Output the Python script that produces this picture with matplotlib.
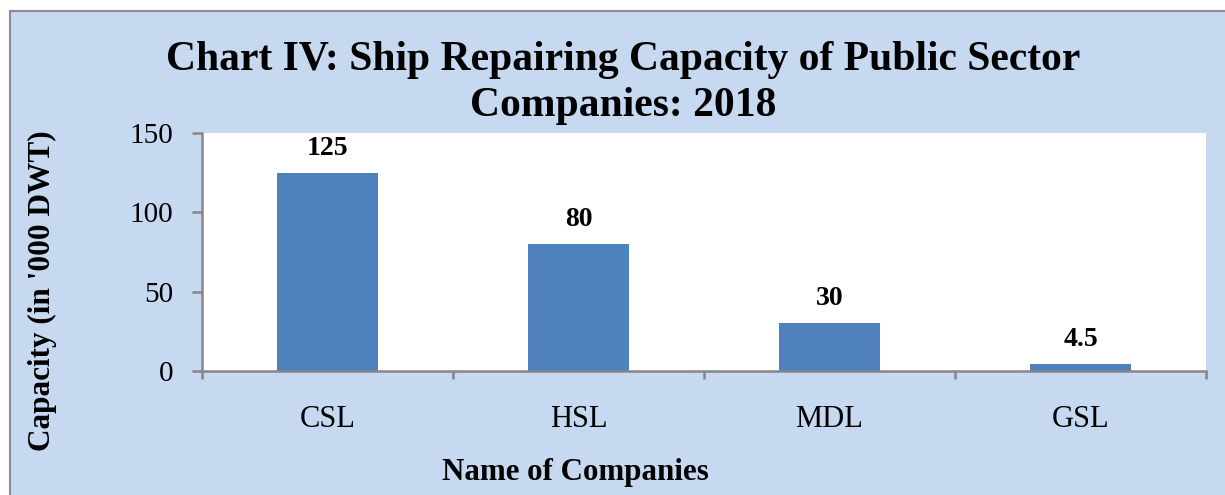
import matplotlib.pyplot as plt
import matplotlib.patches as mpatches
from matplotlib.transforms import blended_transform_factory

# data
companies = ['CSL', 'HSL', 'MDL', 'GSL']
capacity = [125, 80, 30, 4.5]
value_labels = ['125', '80', '30', '4.5']

plt.rcParams['font.family'] = ['Liberation Serif', 'DejaVu Serif']

W, H = 1225, 495
fig = plt.figure(figsize=(W / 100, H / 100), dpi=100)
fig.patch.set_facecolor('white')

# chart area background with gray border (cropped at right/bottom)
bg = mpatches.Rectangle((10 / W, -0.05), 1.1, 1 - 11 / H + 0.05, transform=fig.transFigure,
                        facecolor='#C6D9F1', edgecolor='#8C8C8C', linewidth=1.5, zorder=-10)
fig.add_artist(bg)

ax = fig.add_axes([202 / W, 1 - 371 / H, (1206 - 202) / W, (371 - 133) / H])
ax.set_facecolor('white')

x = range(len(companies))
ax.bar(x, capacity, width=0.4, color='#4F81BD', zorder=2)
ax.set_xlim(-0.5, len(companies) - 0.5)
ax.set_ylim(0, 150)
ax.set_yticks([0, 50, 100, 150])

# value labels above bars
for i, v in enumerate(capacity):
    ax.annotate(value_labels[i], (i, v), xytext=(0, 13), textcoords='offset points',
                ha='center', va='baseline', fontsize=20, fontweight='bold')

# axis styling
for s in ['top', 'right']:
    ax.spines[s].set_visible(False)
for s in ['left', 'bottom']:
    ax.spines[s].set_color('#868686')
    ax.spines[s].set_linewidth(1.8)

ax.set_xticks([i - 0.5 for i in range(len(companies) + 1)])
ax.set_xticklabels([])
ax.tick_params(axis='x', direction='out', length=6, color='#868686', width=1.8)
ax.tick_params(axis='y', direction='out', length=7, color='#868686', width=1.8,
               labelsize=21, pad=13.5)

# category names
trans = blended_transform_factory(ax.transData, fig.transFigure)
for i, name in enumerate(companies):
    ax.text(i, 1 - 427 / H, name, transform=trans, ha='center', va='baseline', fontsize=22)

fig.text(623 / W, 1 - 70 / H, 'Chart IV: Ship Repairing Capacity of Public Sector',
         ha='center', va='baseline', fontsize=30, fontweight='bold')
fig.text(623 / W, 1 - 116 / H, 'Companies: 2018',
         ha='center', va='baseline', fontsize=30, fontweight='bold')
fig.text(575 / W, 1 - 480 / H, 'Name of Companies', ha='center', va='baseline',
         fontsize=22.3, fontweight='bold')
fig.text(42 / W, 1 - 291 / H, "Capacity (in '000 DWT)", ha='center', va='center',
         rotation=90, fontsize=22.5, fontweight='bold')

fig.savefig('out.png', dpi=100)
